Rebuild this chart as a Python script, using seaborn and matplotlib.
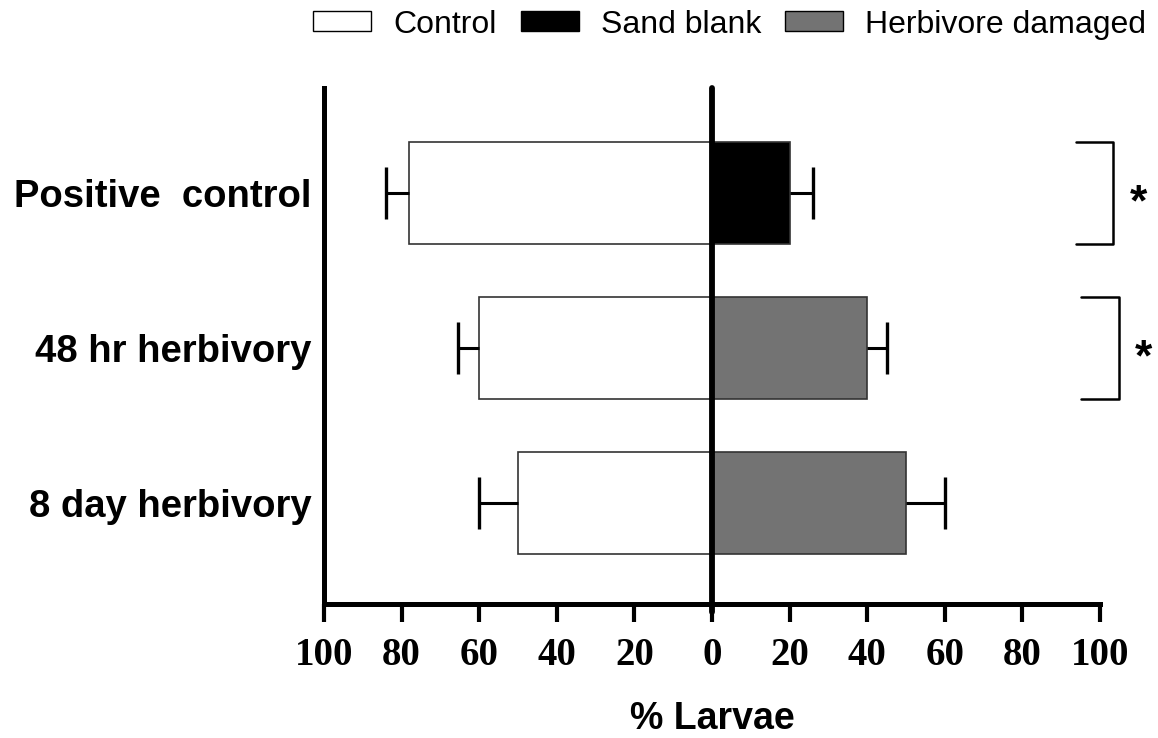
import matplotlib
matplotlib.use("Agg")
import matplotlib.pyplot as plt
import seaborn as sns
import pandas as pd
import numpy as np

# Choice-assay results: % larvae choosing each side
groups = ["Positive  control", "48 hr herbivory", "8 day herbivory"]
control_pct = [78, 60, 50]
control_err = [6, 5.5, 10]
treatment_names = ["Sand blank", "Herbivore damaged", "Herbivore damaged"]
treatment_pct = [20, 40, 50]
treatment_err = [6, 5, 10]
significant = [True, True, False]
tick_values = [-100, -80, -60, -40, -20, 0, 20, 40, 60, 80, 100]

sns.set_theme(style="white")
plt.rcParams["font.family"] = ["Liberation Sans", "DejaVu Sans"]
plt.rcParams.update({"text.color": "black", "axes.labelcolor": "black",
                     "xtick.color": "black", "ytick.color": "black"})

rows = []
for g, c, t, tn in zip(groups, control_pct, treatment_pct, treatment_names):
    rows.append({"group": g, "treatment": "Control", "pct": -c})
    rows.append({"group": g, "treatment": tn, "pct": t})
df = pd.DataFrame(rows)

palette = {"Control": "#ffffff", "Sand blank": "#000000", "Herbivore damaged": "#737373"}
hue_order = ["Control", "Sand blank", "Herbivore damaged"]

fig = plt.figure(figsize=(11.58, 7.38), dpi=100)
ax = fig.add_axes([0.2798, 0.1816, 0.6701, 0.6992])

sns.barplot(data=df, x="pct", y="group", hue="treatment", order=groups,
            hue_order=hue_order, palette=palette, dodge=False, orient="h",
            width=0.66, edgecolor="#333333", linewidth=1.2, errorbar=None,
            legend=True, ax=ax)

# One-sided error bars pointing outward from each bar
pos = np.arange(len(groups))
left_ends = -np.array(control_pct) - np.array(control_err)
right_ends = np.array(treatment_pct) + np.array(treatment_err)
ax.hlines(pos, -np.array(control_pct), left_ends, color="black", lw=2.2, zorder=3)
ax.hlines(pos, np.array(treatment_pct), right_ends, color="black", lw=2.2, zorder=3)
ax.plot(left_ends, pos, ls="none", marker="|", ms=37, mew=2.4, color="black", zorder=3)
ax.plot(right_ends, pos, ls="none", marker="|", ms=37, mew=2.4, color="black", zorder=3)

# Centre line at zero
ax.axvline(0, color="black", lw=4.2, zorder=4, ymin=-0.016, clip_on=False)

ax.set_xlim(-100, 100)
ax.set_ylim(2.65, -0.68)
ax.set_xticks(tick_values)
ax.set_xticklabels([str(abs(v)) for v in tick_values],
                   fontfamily="Liberation Serif", fontweight="bold", fontsize=28)
ax.tick_params(axis="x", direction="out", length=13, width=3, color="black",
               pad=11, bottom=True)
ax.tick_params(axis="y", length=0, pad=9)
for lab in ax.get_yticklabels():
    lab.set_fontweight("bold")
    lab.set_fontsize(27.5)
    lab.set_fontfamily("Liberation Sans")

for side in ["top", "right"]:
    ax.spines[side].set_visible(False)
for side in ["left", "bottom"]:
    ax.spines[side].set_linewidth(3.6)
    ax.spines[side].set_color("black")

ax.set_ylabel("")
ax.set_xlabel("% Larvae", fontsize=27, fontweight="bold", labelpad=19)

# Significance brackets beside the paired bars
half = 0.33
for i, sig in enumerate(significant):
    if not sig:
        continue
    x0 = 93.8 + 1.3 * i
    x1 = 103.4 + 1.4 * i
    ax.plot([x0, x1, x1, x0], [i - half, i - half, i + half, i + half],
            color="black", lw=1.8, clip_on=False)
    ax.text(x1 + 6.5, i + 0.07, "*", fontsize=32, fontweight="bold",
            ha="center", va="center", clip_on=False)

handles, labels = ax.get_legend_handles_labels()
ax.legend_.remove()
for h in handles:
    h.set_edgecolor("black")
    h.set_linewidth(1.0)
fig.legend(handles, labels, loc="upper right", bbox_to_anchor=(1.0147, 1.026),
           ncol=3, frameon=False, fontsize=23, handlelength=1.82,
           handleheight=0.6, handletextpad=0.69, columnspacing=0.75)

fig.savefig("out.png", dpi=100)
